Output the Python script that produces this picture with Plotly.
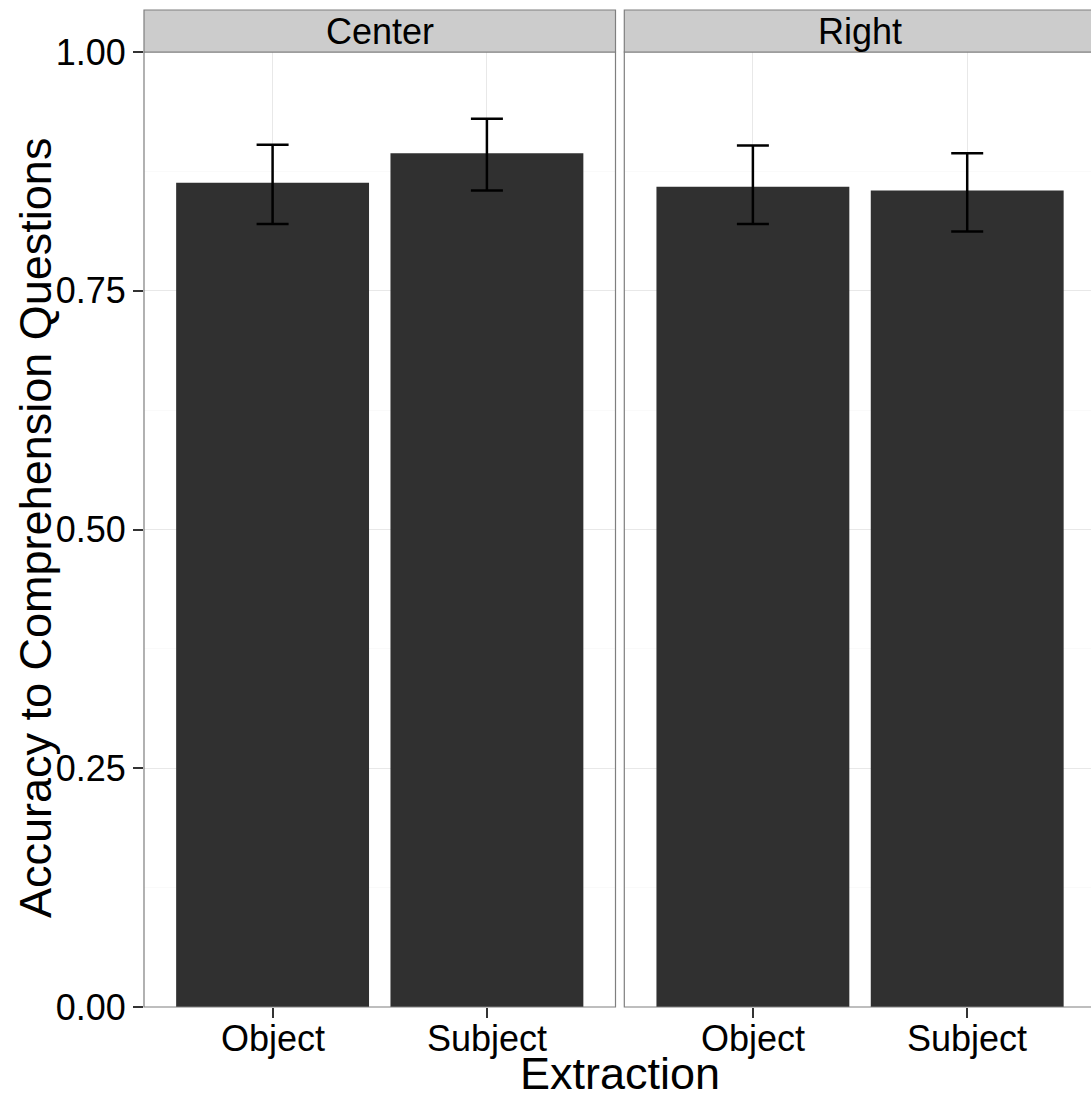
import plotly.graph_objects as go

# ---- data ----
extraction = ["Object", "Subject"]
panels = ["Center", "Right"]
accuracy_center = [0.863, 0.894]
accuracy_right = [0.859, 0.855]
upper_center = [0.903, 0.930]
lower_center = [0.820, 0.855]
upper_right = [0.902, 0.894]
lower_right = [0.820, 0.812]
y_ticks = [0.0, 0.25, 0.5, 0.75, 1.0]

W, H = 1091, 1099
ML, MR, MT, MB = 144, 0, 10, 92
plot_w = W - ML - MR
plot_h = H - MT - MB
panel_h = 955
ytop = panel_h / plot_h

FONT = "Liberation Sans, Arial, Helvetica, sans-serif"
BAR = "#303030"
BORDER = "#7F7F7F"
GRID = "#E8E8E8"
MINOR = "#FAFAFA"
TICKC = "#333333"

fig = go.Figure()

series = [
    (accuracy_center, upper_center, lower_center, "x", "y"),
    (accuracy_right, upper_right, lower_right, "x2", "y2"),
]
for vals, up, lo, xa, ya in series:
    fig.add_trace(go.Bar(
        x=extraction, y=vals, xaxis=xa, yaxis=ya, width=0.9,
        marker=dict(color=BAR, line=dict(width=0)),
        error_y=dict(type="data", symmetric=False,
                     array=[u - v for u, v in zip(up, vals)],
                     arrayminus=[v - l for v, l in zip(vals, lo)],
                     color="black", thickness=2.5, width=16),
        showlegend=False, hoverinfo="y",
    ))

d1 = (0.0, 471.5 / plot_w)
d2 = ((624.3 - ML) / plot_w, 1.0)
px_per_unit = 471.5 / 2.2
r2 = -0.6 + (W - 624.3) / px_per_unit

xcommon = dict(type="category", categoryorder="array", categoryarray=extraction,
               showgrid=True, gridcolor=GRID, gridwidth=1.2, zeroline=False,
               ticks="outside", ticklen=10, tickwidth=1.8, tickcolor=TICKC,
               showticklabels=False, showline=False, automargin=False)
fig.update_layout(
    xaxis=dict(xcommon, domain=d1, range=[-0.6, 1.6], anchor="y"),
    xaxis2=dict(xcommon, domain=d2, range=[-0.6, r2], anchor="y2"),
    yaxis=dict(domain=[0, ytop], range=[0, 1], tickvals=y_ticks,
               ticktext=[f"{v:.2f}" for v in y_ticks], automargin=False,
               showgrid=True, gridcolor=GRID, gridwidth=1.2, zeroline=False,
               ticks="outside", ticklen=10, tickwidth=1.8, tickcolor=TICKC,
               tickfont=dict(family=FONT, size=36, color="black"),
               minor=dict(tickvals=[0.125, 0.375, 0.625, 0.875], showgrid=True,
                          gridcolor=MINOR, gridwidth=1, ticks=""),
               anchor="x"),
    yaxis2=dict(domain=[0, ytop], range=[0, 1], tickvals=y_ticks,
                showticklabels=False, ticks="", matches="y", automargin=False,
                showgrid=True, gridcolor=GRID, gridwidth=1.2, zeroline=False,
                minor=dict(tickvals=[0.125, 0.375, 0.625, 0.875], showgrid=True,
                           gridcolor=MINOR, gridwidth=1, ticks=""),
                anchor="x2"),
    width=W, height=H,
    margin=dict(l=ML, r=MR, t=MT, b=MB, pad=0, autoexpand=False),
    plot_bgcolor="white", paper_bgcolor="white",
    font=dict(family=FONT, color="black"),
)

shapes = []
ann = []
for xa, xref, x1, name in [("x", "x domain", 1.0, panels[0]), ("x2", "x2 domain", 1.05, panels[1])]:
    yref = "y domain" if xa == "x" else "y2 domain"
    shapes.append(dict(type="rect", xref=xref, yref=yref, x0=0, x1=x1, y0=0, y1=1,
                       line=dict(color=BORDER, width=1.2), fillcolor="rgba(0,0,0,0)",
                       layer="above"))
    shapes.append(dict(type="rect", xref=xref, yref="paper", x0=0, x1=x1,
                       y0=ytop, y1=1.0, line=dict(color=BORDER, width=1.2),
                       fillcolor="#CCCCCC", layer="above"))
    ann.append(dict(text=name, xref=xref, yref="paper", x=0.5 if x1 == 1.0 else 0.5 * 471.5 / (W - 624.3),
                    y=(ytop + 1) / 2, xanchor="center", yanchor="middle", showarrow=False,
                    font=dict(family=FONT, size=36, color="black")))
    # category tick labels
    for cat in extraction:
        ann.append(dict(text=cat, xref=xa, yref="paper", x=cat, y=0, yshift=-9,
                        xanchor="center", yanchor="top", showarrow=False,
                        font=dict(family=FONT, size=36, color="black")))

ann.append(dict(text="Extraction", xref="paper", yref="paper",
                x=(620 - ML) / plot_w, y=(1007 - 1073) / plot_h, borderpad=0,
                xanchor="center", yanchor="middle", showarrow=False,
                font=dict(family=FONT, size=45, color="black")))
ann.append(dict(text="Accuracy to Comprehension Questions", xref="paper", yref="paper",
                x=(35 - ML) / plot_w, y=(1007 - 528) / plot_h, textangle=-90,
                xanchor="center", yanchor="middle", showarrow=False,
                font=dict(family=FONT, size=45, color="black")))

fig.update_layout(shapes=shapes, annotations=ann)
fig.write_html("out.html", config={"displayModeBar": False},
               post_script="document.body.style.margin='0';document.body.style.overflow='hidden';")
